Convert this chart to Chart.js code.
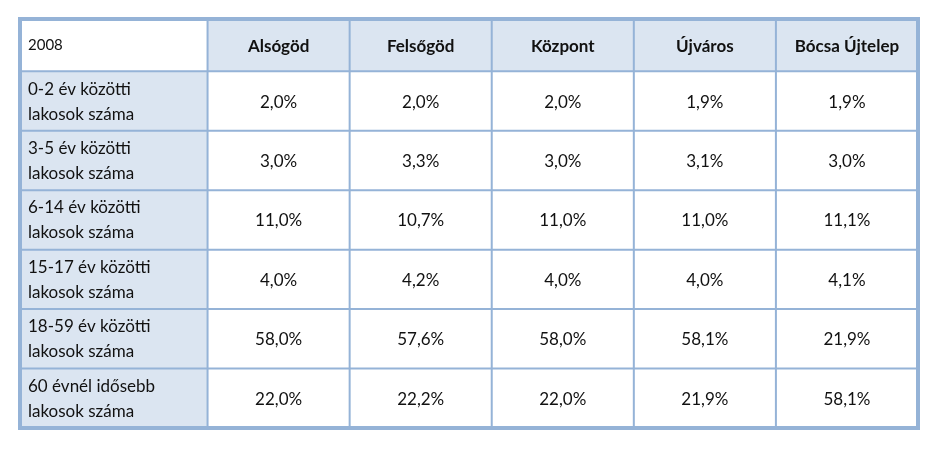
<!DOCTYPE html>
<html>
<head>
<meta charset="utf-8">
<script src="https://cdn.jsdelivr.net/npm/chart.js@4/dist/chart.umd.min.js"></script>
<style>
  body { margin: 0; background: #fff; }
  #wrap { width: 946px; height: 450px; }
</style>
</head>
<body>
<div id="wrap"><canvas id="tableChart"></canvas></div>
<script>
// table data
var corner = '2008';
var districts = ['Alsógöd', 'Felsőgöd', 'Központ', 'Újváros', 'Bócsa Újtelep'];
var ageGroups = [
    ['0-2 év közötti', 'lakosok száma'],
    ['3-5 év közötti', 'lakosok száma'],
    ['6-14 év közötti', 'lakosok száma'],
    ['15-17 év közötti', 'lakosok száma'],
    ['18-59 év közötti', 'lakosok száma'],
    ['60 évnél idősebb', 'lakosok száma']
];
var alsogod  = [2.0, 3.0, 11.0, 4.0, 58.0, 22.0];
var felsogod = [2.0, 3.3, 10.7, 4.2, 57.6, 22.2];
var kozpont  = [2.0, 3.0, 11.0, 4.0, 58.0, 22.0];
var ujvaros  = [1.9, 3.1, 11.0, 4.0, 58.1, 21.9];
var bocsa    = [1.9, 3.0, 11.1, 4.1, 21.9, 58.1];
var series = [alsogod, felsogod, kozpont, ujvaros, bocsa];

// layout in scale units
var firstColW = 1.32;
var headerH = 0.88;
var border = '#95b3d7';
var fill = '#dbe5f1';

function fmt(v) { return v.toFixed(1).replace('.', ',') + '%'; }

var tablePlugin = {
    id: 'tablePlugin',
    afterDatasetsDraw: function (chart) {
        var ctx = chart.ctx, x = chart.scales.x, y = chart.scales.y;
        var colEdges = [0, firstColW];
        for (var i = 1; i <= districts.length; i++) colEdges.push(firstColW + i);
        var rowEdges = [0, headerH];
        for (var j = 1; j <= ageGroups.length; j++) rowEdges.push(headerH + j);
        var px = colEdges.map(function (v) { return x.getPixelForValue(v); });
        var py = rowEdges.map(function (v) { return y.getPixelForValue(v); });
        ctx.save();
        // backgrounds
        ctx.fillStyle = fill;
        ctx.fillRect(px[1], py[0], px[px.length - 1] - px[1], py[1] - py[0]);
        ctx.fillRect(px[0], py[1], px[1] - px[0], py[py.length - 1] - py[1]);
        // text
        ctx.fillStyle = '#111';
        ctx.textBaseline = 'middle';
        ctx.font = '15px Lato';
        ctx.textAlign = 'left';
        ctx.fillText(corner, px[0] + 8, (py[0] + py[1]) / 2);
        ctx.font = 'bold 17px Lato';
        ctx.textAlign = 'center';
        districts.forEach(function (d, c) {
            ctx.fillText(d, (px[c + 1] + px[c + 2]) / 2, (py[0] + py[1]) / 2 + 1);
        });
        ageGroups.forEach(function (lines, r) {
            var mid = (py[r + 1] + py[r + 2]) / 2;
            ctx.font = '17px Lato';
            ctx.textAlign = 'left';
            ctx.fillText(lines[0], px[0] + 8, mid - 12);
            ctx.fillText(lines[1], px[0] + 8, mid + 13);
            ctx.textAlign = 'center';
            series.forEach(function (s, c) {
                ctx.fillText(fmt(s[r]), (px[c + 1] + px[c + 2]) / 2, mid + 1);
            });
        });
        // grid lines
        ctx.strokeStyle = border;
        ctx.lineWidth = 2;
        ctx.beginPath();
        for (var a = 1; a < px.length - 1; a++) {
            ctx.moveTo(px[a], py[0]); ctx.lineTo(px[a], py[py.length - 1]);
        }
        for (var b = 1; b < py.length - 1; b++) {
            ctx.moveTo(px[0], py[b]); ctx.lineTo(px[px.length - 1], py[b]);
        }
        ctx.stroke();
        ctx.lineWidth = 4;
        ctx.strokeRect(px[0], py[0], px[px.length - 1] - px[0], py[py.length - 1] - py[0]);
        ctx.restore();
    }
};

new Chart(document.getElementById('tableChart').getContext('2d'), {
    type: 'scatter',
    data: { datasets: [{ data: [] }] },
    options: {
        responsive: true,
        maintainAspectRatio: false,
        animation: false,
        layout: { padding: { left: 20, top: 19, right: 28, bottom: 22 } },
        plugins: { legend: { display: false }, tooltip: { enabled: false } },
        scales: {
            x: { type: 'linear', display: false, min: 0, max: firstColW + districts.length },
            y: { type: 'linear', display: false, reverse: true, min: 0, max: headerH + ageGroups.length }
        }
    },
    plugins: [tablePlugin]
});
</script>
</body>
</html>
